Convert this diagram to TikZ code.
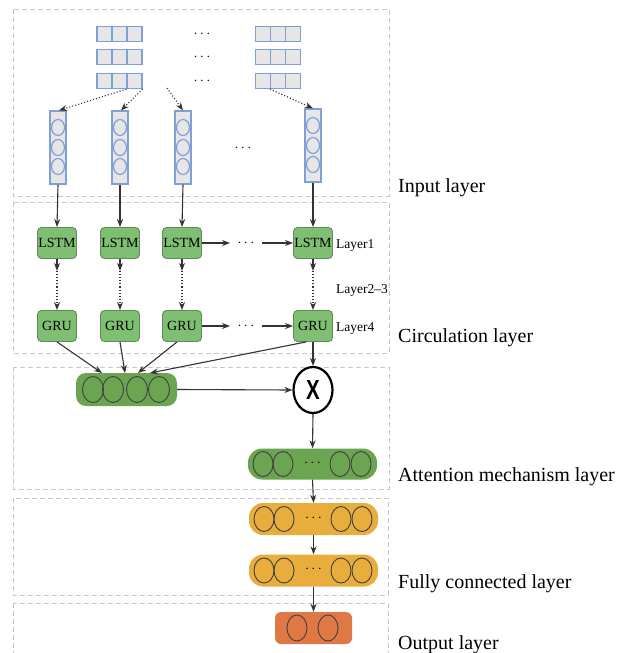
\documentclass[tikz,border=0pt]{standalone}
\usepackage{fontspec}
\setmainfont{Liberation Serif}
\newfontfamily\xfont{Liberation Sans}
\usetikzlibrary{arrows.meta,calc,shapes.geometric}
\definecolor{vecblue}{HTML}{7F9FD6}
\definecolor{vecgray}{HTML}{E6E6E6}
\definecolor{lstmgreen}{HTML}{7FBF73}
\definecolor{lstmborder}{HTML}{5E8C55}
\definecolor{pillgreen}{HTML}{6BA551}
\definecolor{fcorange}{HTML}{E8AD3C}
\definecolor{outorange}{HTML}{E07845}
\definecolor{boxgray}{HTML}{C8C8C8}
\definecolor{arrowgray}{HTML}{333333}
\begin{document}
\begin{tikzpicture}[x=1pt,y=-1pt,
 layerbox/.style={draw=boxgray, dash pattern=on 5pt off 3pt, line width=0.9pt},
 matbox/.style={draw=vecblue, fill=vecgray, line width=1.2pt, minimum width=45pt, minimum height=15pt, inner sep=0pt},
 vecbox/.style={draw=vecblue, fill=vecgray, line width=1.2pt, minimum width=16pt, minimum height=73pt, inner sep=0pt},
 vcirc/.style={draw=vecblue, line width=1.2pt},
 rnncell/.style={font=\fontsize{14}{15}\selectfont, draw=lstmborder, fill=lstmgreen, rounded corners=4pt, minimum width=39pt, minimum height=31pt, inner sep=0pt, line width=0.9pt},
 pill/.style={rounded corners=14pt, minimum height=31pt, minimum width=129pt, inner sep=0pt},
 neuron/.style={draw=black!75, line width=0.9pt},
 arr/.style={draw=arrowgray, line width=1.1pt, -{Stealth[length=8pt,width=6pt]}},
 darr/.style={arr, dotted},
 lbl/.style={font=\fontsize{20}{22}\selectfont, anchor=base west, inner sep=0pt},
 slbl/.style={font=\fontsize{13.5}{15}\selectfont, anchor=base west, inner sep=0pt},
 dotstxt/.style={font=\fontsize{14}{15}\selectfont, inner sep=0pt}
]
\useasboundingbox (0,0) rectangle (627,653);
% layer boxes
\draw[layerbox] (13,9) rectangle (389,196);
\draw[layerbox] (13,202) rectangle (389,353);
\draw[layerbox] (13,367) rectangle (389,489);
\draw[layerbox] (13,498) rectangle (388,595);
\draw[layerbox] (13,603) rectangle (388,670);
% input matrices
\foreach \r/\yy in {1/34, 2/57, 3/81}{
  \node[matbox] (mL\r) at (119.5,\yy) {};
  \node[matbox] (mR\r) at (278,\yy) {};
  \foreach \m in {mL\r, mR\r}{
    \draw[vecblue, line width=1.2pt] ($(\m.north)+(-7.5,0)$) -- ($(\m.south)+(-7.5,0)$);
    \draw[vecblue, line width=1.2pt] ($(\m.north)+(7.5,0)$) -- ($(\m.south)+(7.5,0)$);
  }
  \node[dotstxt] (md\r) at (202,\yy) {$\cdots$};
}
% vectors
\foreach \i/\xx/\yy in {1/58/147.5, 2/120/147.5, 3/183/147.5, 4/313/145.5}{
  \node[vecbox] (v\i) at (\xx,\yy) {};
  \foreach \dy in {-20,0,19}
    \draw[vcirc] ($(v\i.center)+(0,\dy)$) ellipse [x radius=6.5pt, y radius=8pt];
}
\node[dotstxt] (vd) at (243,148) {$\cdots$};
\coordinate (m3src) at (167,88);
\draw[darr] ($(mL3.south)+(7,0)$) -- ($(v1.north)+(1,0)$);
\draw[darr] (mL3.south east) -- ($(v2.north)+(1,0)$);
\draw[darr] (m3src) -- (v3.north);
\draw[darr] ($(mR3.south)+(-8,0)$) -- (v4.north);
% LSTM and GRU
\foreach \i/\xx in {1/57, 2/120, 3/182, 4/313}{
  \node[rnncell] (L\i) at (\xx,243) {LSTM};
  \node[rnncell] (G\i) at (\xx,326) {GRU};
  \draw[arr] (v\i.south) -- (L\i.north);
  \draw[arr] (L\i.south) -- ++(0,12) coordinate (lg\i);
  \draw[darr] (lg\i) -- (G\i.north);
}
\coordinate (La) at (230,243); \coordinate (Lb) at (262,243);
\coordinate (Ga) at (230,326); \coordinate (Gb) at (262,326);
\draw[arr] (L3.east) -- (La);
\draw[arr] (Lb) -- (L4.west);
\draw[arr] (G3.east) -- (Ga);
\draw[arr] (Gb) -- (G4.west);
\node[dotstxt] (Ld) at (246,243) {$\cdots$};
\node[dotstxt] (Gd) at (246,326) {$\cdots$};
\node[slbl] (l1) at (336,248) {Layer1};
\node[slbl] (l23) at (336,293) {Layer2--3};
\node[slbl] (l4) at (336,331) {Layer4};
% attention
\node[pill, fill=pillgreen, minimum width=101pt, minimum height=33pt, rounded corners=10pt] (P1) at (126.5,389.5) {};
\foreach \dx in {-33.5,-13.5,10.5,32.5}
  \draw[neuron] ($(P1.center)+(\dx,0)$) ellipse [x radius=10.5pt, y radius=13pt];
\draw[arr] (G1.south) -- (102,373);
\draw[arr] (G2.south) -- (125,373);
\draw[arr] ($(G3.south)+(-5,0)$) -- (138,373);
\draw[arr] ($(G4.south)+(-7,0)$) -- (150,373);
\node[ellipse, draw=black, line width=2.2pt, fill=white, minimum width=39pt, minimum height=46pt, inner sep=0pt] (X) at (313,390) {\xfont\bfseries\fontsize{24}{26}\selectfont\scalebox{0.85}[1.15]{X}};
\draw[arr] (G4.south) -- (X.north);
\draw[arr] (P1.east) -- (X.west);
\node[pill, fill=pillgreen] (P2) at (312.5,464) {};
\draw[arr] (X.south) -- (P2.north);
% fully connected
\node[pill, fill=fcorange, minimum height=32pt] (FA) at (313.5,519) {};
\node[pill, fill=fcorange, minimum height=32pt] (FB) at (313.5,570.5) {};
\foreach \p in {P2, FA, FB}{
  \foreach \dx in {-49.5,-29.5,27.5,48.5}
    \draw[neuron] ($(\p.center)+(\dx,0)$) ellipse [x radius=10pt, y radius=12.5pt];
  \node[dotstxt] at ($(\p.center)+(0,-1)$) {$\cdots$};
}
\draw[arr] (P2.south) -- (FA.north);
\draw[arr] (FA.south) -- (FB.north);
% output
\node[fill=outorange, rounded corners=6pt, minimum width=77pt, minimum height=32pt, inner sep=0pt] (O) at (313.5,628) {};
\foreach \dx in {-16.5,14.5}
  \draw[neuron] ($(O.center)+(\dx,0)$) ellipse [x radius=10pt, y radius=13pt];
\draw[arr] (FB.south) -- (O.north);
% layer labels
\node[lbl] (t1) at (398,192) {Input layer};
\node[lbl] (t2) at (398,342) {Circulation layer};
\node[lbl] (t3) at (398,481) {Attention mechanism layer};
\node[lbl] (t4) at (398,588) {Fully connected layer};
\node[lbl] (t5) at (398,649) {Output layer};
\end{tikzpicture}
\end{document}
